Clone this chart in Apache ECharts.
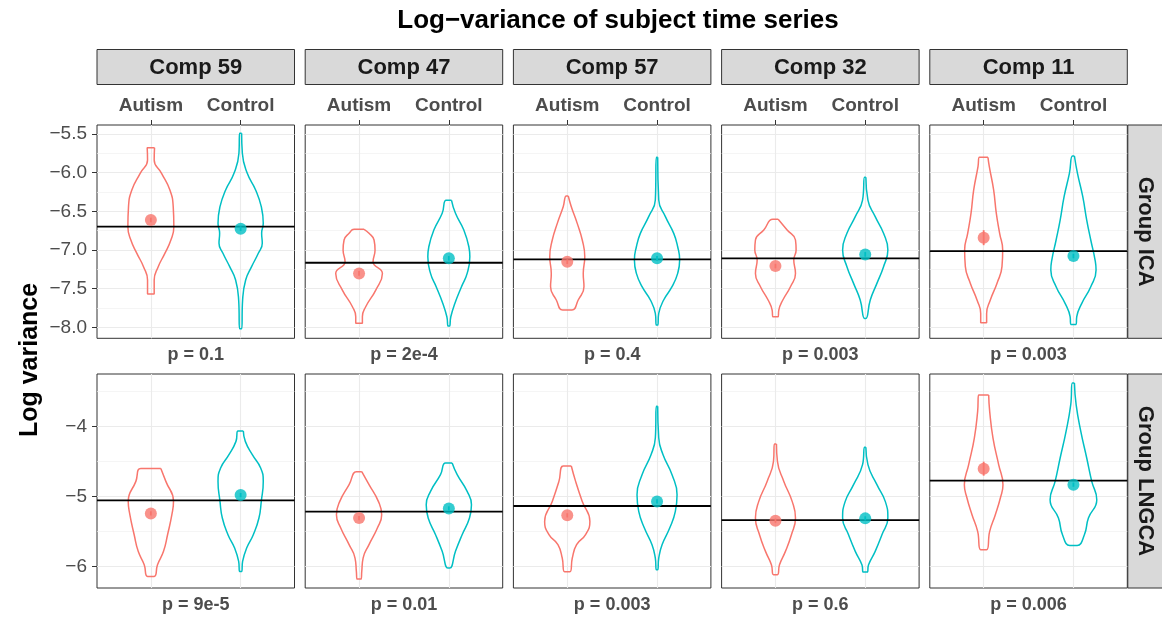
<!DOCTYPE html>
<html><head><meta charset="utf-8">
<script src="https://cdn.jsdelivr.net/npm/echarts@6.0.0/dist/echarts.min.js"></script>
<style>html,body{margin:0;padding:0;background:#fff}#c{width:1162px;height:618px}</style>
</head><body><div id="c"></div>
<script>
// ---------- data ----------
const comps = ['Comp 59', 'Comp 47', 'Comp 57', 'Comp 32', 'Comp 11'];
const groups = ['Autism', 'Control'];
const methods = ['Group ICA', 'Group LNGCA'];
const titleText = 'Log\u2212variance of subject time series';
const yLabel = 'Log variance';

const icaTicks = [-8, -7.5, -7, -6.5, -6, -5.5];
const icaMinor = [-7.75, -7.25, -6.75, -6.25, -5.75];
const lngTicks = [-6, -5, -4];
const lngMinor = [-5.5, -4.5, -3.5];
const icaRange = [-8.142, -5.384];
const lngRange = [-6.303, -3.254];

// violin profiles: [log variance, half width (category units)]
const ica59A = [[-5.677,0.041],[-5.836,0.037],[-6.009,0.119],[-6.224,0.212],[-6.440,0.249],[-6.699,0.256],[-6.871,0.223],[-7.044,0.156],[-7.216,0.082],[-7.389,0.037],[-7.570,0.037]];
const ica59C = [[-5.491,0.011],[-5.750,0.019],[-6.009,0.074],[-6.224,0.167],[-6.440,0.230],[-6.655,0.252],[-6.785,0.234],[-6.914,0.241],[-7.043,0.197],[-7.216,0.122],[-7.389,0.056],[-7.647,0.022],[-8.019,0.011]];
const ica47A = [[-6.733,0.056],[-6.785,0.111],[-6.871,0.167],[-7.001,0.178],[-7.152,0.156],[-7.303,0.260],[-7.518,0.186],[-7.734,0.074],[-7.863,0.037],[-7.949,0.037]];
const ica47C = [[-6.358,0.030],[-6.526,0.074],[-6.742,0.167],[-6.958,0.223],[-7.087,0.234],[-7.303,0.204],[-7.475,0.141],[-7.691,0.067],[-7.863,0.022],[-7.984,0.007]];
const ica57A = [[-6.302,0.011],[-6.440,0.045],[-6.656,0.111],[-6.871,0.167],[-7.087,0.195],[-7.303,0.178],[-7.475,0.186],[-7.647,0.122],[-7.777,0.052]];
const ica57C = [[-5.802,0.007],[-6.354,0.019],[-6.569,0.093],[-6.785,0.186],[-6.958,0.230],[-7.130,0.252],[-7.303,0.230],[-7.475,0.167],[-7.647,0.074],[-7.820,0.019],[-7.971,0.007]];
const ica32A = [[-6.604,0.030],[-6.742,0.130],[-6.871,0.223],[-7.001,0.230],[-7.130,0.204],[-7.303,0.223],[-7.475,0.167],[-7.647,0.082],[-7.777,0.037],[-7.863,0.030]];
const ica32C = [[-6.061,0.007],[-6.354,0.030],[-6.569,0.111],[-6.785,0.204],[-7.001,0.252],[-7.216,0.204],[-7.432,0.130],[-7.647,0.056],[-7.885,0.007]];
const ica11A = [[-5.802,0.048],[-5.923,0.063],[-6.224,0.111],[-6.526,0.141],[-6.785,0.178],[-7.001,0.212],[-7.216,0.204],[-7.432,0.148],[-7.647,0.074],[-7.820,0.033],[-7.941,0.033]];
const ica11C = [[-5.785,0.011],[-6.009,0.045],[-6.311,0.104],[-6.613,0.148],[-6.871,0.193],[-7.130,0.241],[-7.259,0.252],[-7.475,0.193],[-7.691,0.093],[-7.863,0.037],[-7.962,0.030]];

const lng59A = [[-4.599,0.111],[-4.784,0.167],[-5.069,0.252],[-5.259,0.234],[-5.544,0.186],[-5.781,0.141],[-5.971,0.074],[-6.138,0.037]];
const lng59C = [[-4.067,0.030],[-4.214,0.052],[-4.404,0.130],[-4.594,0.223],[-4.784,0.252],[-5.069,0.230],[-5.306,0.204],[-5.544,0.141],[-5.734,0.067],[-5.924,0.022],[-6.067,0.011]];
const lng47A = [[-4.646,0.030],[-4.831,0.111],[-5.069,0.215],[-5.259,0.252],[-5.449,0.204],[-5.686,0.111],[-5.876,0.045],[-6.066,0.030],[-6.176,0.022]];
const lng47C = [[-4.523,0.037],[-4.689,0.093],[-4.926,0.204],[-5.116,0.252],[-5.306,0.230],[-5.544,0.148],[-5.781,0.074],[-6.019,0.011]];
const lng57A = [[-4.565,0.045],[-4.784,0.093],[-5.069,0.167],[-5.354,0.252],[-5.544,0.204],[-5.686,0.104],[-5.876,0.056],[-6.071,0.030]];
const lng57C = [[-3.715,0.007],[-4.166,0.019],[-4.404,0.067],[-4.689,0.167],[-4.974,0.223],[-5.211,0.204],[-5.449,0.141],[-5.686,0.056],[-5.876,0.019],[-6.043,0.007]];
const lng32A = [[-4.252,0.011],[-4.499,0.022],[-4.784,0.093],[-5.069,0.186],[-5.306,0.223],[-5.544,0.178],[-5.781,0.111],[-5.971,0.045],[-6.114,0.022]];
const lng32C = [[-4.299,0.007],[-4.546,0.030],[-4.831,0.130],[-5.069,0.223],[-5.306,0.252],[-5.544,0.186],[-5.781,0.111],[-5.971,0.037],[-6.076,0.022]];
const lng11A = [[-3.553,0.056],[-3.786,0.067],[-4.166,0.104],[-4.546,0.167],[-4.831,0.215],[-5.021,0.186],[-5.259,0.130],[-5.496,0.067],[-5.758,0.033]];
const lng11C = [[-3.382,0.011],[-3.691,0.030],[-4.071,0.082],[-4.451,0.148],[-4.784,0.204],[-5.045,0.260],[-5.306,0.167],[-5.544,0.122],[-5.696,0.041]];

// group means, standard errors and overall mean line
const icaMeanAutism = [-6.612, -7.303, -7.152, -7.208, -6.841];
const icaMeanControl = [-6.725, -7.108, -7.108, -7.057, -7.078];
const icaSeAutism = [0.03, 0.03, 0.03, 0.03, 0.097];
const icaSeControl = [0.03, 0.03, 0.03, 0.03, 0.03];
const icaGrand = [-6.699, -7.165, -7.121, -7.108, -7.014];
const lngMeanAutism = [-5.240, -5.306, -5.268, -5.344, -4.603];
const lngMeanControl = [-4.979, -5.169, -5.069, -5.311, -4.831];
const lngSeAutism = [0.03, 0.03, 0.03, 0.03, 0.10];
const lngSeControl = [0.03, 0.03, 0.03, 0.03, 0.03];
const lngGrand = [-5.055, -5.216, -5.135, -5.335, -4.774];

const icaP = ['p = 0.1', 'p = 2e-4', 'p = 0.4', 'p = 0.003', 'p = 0.003'];
const lngP = ['p = 9e-5', 'p = 0.01', 'p = 0.003', 'p = 0.6', 'p = 0.006'];

// ---------- assembly ----------
const rowsData = [
  { violA: [ica59A, ica47A, ica57A, ica32A, ica11A], violC: [ica59C, ica47C, ica57C, ica32C, ica11C],
    mA: icaMeanAutism, mC: icaMeanControl, sA: icaSeAutism, sC: icaSeControl, g: icaGrand,
    ticks: icaTicks, minor: icaMinor, range: icaRange, p: icaP, dec: 1 },
  { violA: [lng59A, lng47A, lng57A, lng32A, lng11A], violC: [lng59C, lng47C, lng57C, lng32C, lng11C],
    mA: lngMeanAutism, mC: lngMeanControl, sA: lngSeAutism, sC: lngSeControl, g: lngGrand,
    ticks: lngTicks, minor: lngMinor, range: lngRange, p: lngP, dec: 0 }
];
const COLORS = ['#F8766D', '#00BFC4'];
const FONT = '"Liberation Sans", Arial, Helvetica, sans-serif';
const L0 = 97, STEP = 208.2, PW = 197.5;
const ROWTOP = [125, 374], PH = [213.3, 214];
const XMIN = 0.4, XMAX = 2.6;

function violinPath(profile, center) {
  const right = profile.map(p => [center + p[1], p[0]]);
  const left = profile.slice().reverse().map(p => [center - p[1], p[0]]);
  return right.concat(left, [right[0]]);
}
const fmtNum = (v, d) => v.toFixed(d).replace('-', '\u2212');

const grid = [], xAxis = [], yAxis = [], series = [], graphic = [];
let k = 0;
rowsData.forEach((R, r) => {
  comps.forEach((comp, c) => {
    const left = L0 + c * STEP;
    grid.push({ left: left, top: ROWTOP[r], width: PW, height: PH[r], show: true,
      borderColor: '#333333', borderWidth: 1, backgroundColor: '#fff' });
    xAxis.push({ gridIndex: k, type: 'value', position: 'top', min: XMIN, max: XMAX,
      axisLine: { show: false },
      axisTick: { show: r === 0, customValues: [1, 2], length: 5, lineStyle: { color: '#333', width: 1 } },
      axisLabel: { show: r === 0, customValues: [1, 2], formatter: v => groups[Math.round(v) - 1],
        fontSize: 19, fontWeight: 'bold', color: '#4D4D4D', margin: 10, fontFamily: FONT },
      splitLine: { show: true, lineStyle: { color: '#EBEBEB', width: 1.1 } } });
    yAxis.push({ gridIndex: k, type: 'value', min: R.range[0], max: R.range[1],
      axisLine: { show: false },
      axisTick: { show: c === 0, customValues: R.ticks, length: 5, lineStyle: { color: '#333', width: 1 } },
      axisLabel: { show: c === 0, customValues: R.ticks, formatter: v => fmtNum(v, R.dec),
        fontSize: 19, color: '#4D4D4D', margin: 10, fontFamily: FONT },
      splitLine: { show: true, lineStyle: { color: '#EBEBEB', width: 1.1 } } });
    yAxis.push({ gridIndex: k, type: 'value', min: R.range[0], max: R.range[1],
      axisLine: { show: false },
      axisTick: { show: false, customValues: R.minor },
      axisLabel: { show: false, customValues: R.minor },
      splitLine: { show: true, lineStyle: { color: '#F1F1F1', width: 0.7 } } });
    const yi = 2 * k;
    [R.violA[c], R.violC[c]].forEach((prof, gi) => {
      series.push({ type: 'line', xAxisIndex: k, yAxisIndex: yi, data: violinPath(prof, gi + 1),
        symbol: 'none', showSymbol: false, smooth: 0.5, silent: true, z: 2,
        lineStyle: { color: COLORS[gi], width: 1.5 } });
    });
    series.push({ type: 'line', xAxisIndex: k, yAxisIndex: yi, data: [[XMIN, R.g[c]], [XMAX, R.g[c]]],
      symbol: 'none', silent: true, z: 3, lineStyle: { color: '#000', width: 1.8 } });
    series.push({ type: 'custom', xAxisIndex: k, yAxisIndex: yi, z: 4, silent: true,
      data: [[1, R.mA[c] - R.sA[c], R.mA[c] + R.sA[c]], [2, R.mC[c] - R.sC[c], R.mC[c] + R.sC[c]]],
      encode: { x: 0, y: [1, 2] },
      renderItem: (params, api) => {
        const a = api.coord([api.value(0), api.value(1)]);
        const b = api.coord([api.value(0), api.value(2)]);
        return { type: 'line', shape: { x1: a[0], y1: a[1], x2: b[0], y2: b[1] },
          style: { stroke: COLORS[params.dataIndex], lineWidth: 1.8 } };
      } });
    series.push({ type: 'scatter', xAxisIndex: k, yAxisIndex: yi, z: 5, silent: true, symbolSize: 12,
      data: [{ value: [1, R.mA[c]], itemStyle: { color: COLORS[0] } },
             { value: [2, R.mC[c]], itemStyle: { color: COLORS[1] } }] });
    // p-value label under panel
    graphic.push({ type: 'text', x: left + PW / 2, y: ROWTOP[r] + PH[r] + 17,
      style: { text: R.p[c], font: 'bold 18px ' + FONT, fill: '#4D4D4D', textAlign: 'center', textVerticalAlign: 'middle' } });
    k++;
  });
  // right strip
  graphic.push({ type: 'rect', shape: { x: L0 + 4 * STEP + PW + 0.5, y: ROWTOP[r], width: 36, height: PH[r] },
    style: { fill: '#D9D9D9', stroke: '#333333', lineWidth: 1 } });
  graphic.push({ type: 'text', x: L0 + 4 * STEP + PW + 17.5, y: ROWTOP[r] + PH[r] / 2, rotation: -Math.PI / 2,
    style: { text: methods[r], font: 'bold 22px ' + FONT, fill: '#1A1A1A', textAlign: 'center', textVerticalAlign: 'middle' } });
});
// top strips
comps.forEach((comp, c) => {
  const left = L0 + c * STEP;
  graphic.push({ type: 'rect', shape: { x: left, y: 49.5, width: PW, height: 35 },
    style: { fill: '#D9D9D9', stroke: '#333333', lineWidth: 1 } });
  graphic.push({ type: 'text', x: left + PW / 2, y: 67.5,
    style: { text: comp, font: 'bold 22px ' + FONT, fill: '#1A1A1A', textAlign: 'center', textVerticalAlign: 'middle' } });
});
graphic.push({ type: 'text', x: 618, y: 21,
  style: { text: titleText, font: 'bold 26px ' + FONT, fill: '#000', textAlign: 'center', textVerticalAlign: 'middle' } });
graphic.push({ type: 'text', x: 30, y: 360, rotation: Math.PI / 2,
  style: { text: yLabel, font: 'bold 25px ' + FONT, fill: '#000', textAlign: 'center', textVerticalAlign: 'middle' } });

const chart = echarts.init(document.getElementById('c'), null, { renderer: 'canvas' });
chart.setOption({ animation: false, backgroundColor: '#fff', grid, xAxis, yAxis, series, graphic });
</script></body></html>
